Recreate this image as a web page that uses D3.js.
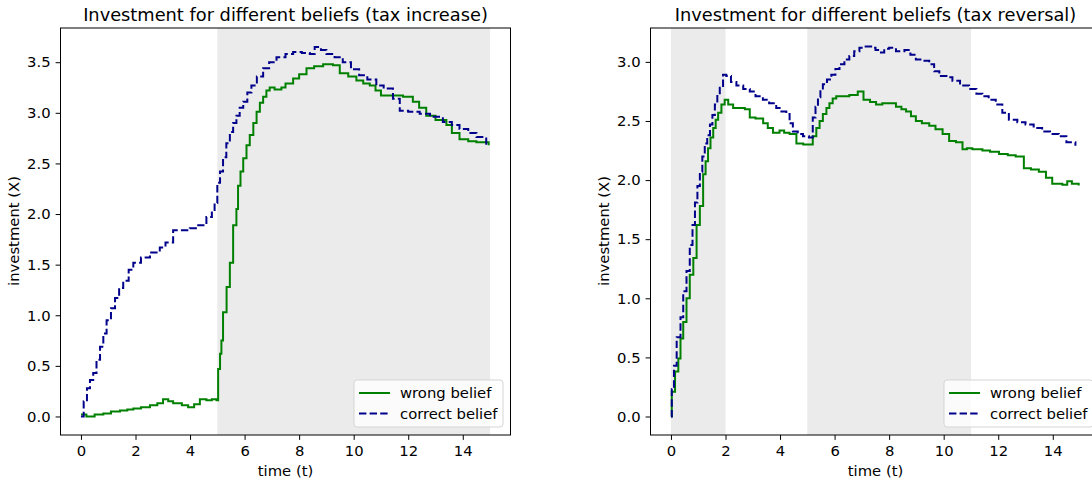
<!DOCTYPE html>
<html>
<head>
<meta charset="utf-8">
<script src="https://cdn.jsdelivr.net/npm/d3@7"></script>
<style>
  html, body { margin: 0; padding: 0; background: #fff; }
  svg { display: block; }
  text { font-family: "DejaVu Sans", sans-serif; fill: #000; }
</style>
</head>
<body>
<svg id="chart" width="1092" height="483"></svg>
<script>
// ---------------- DATA ----------------
const seriesNames = ["wrong belief", "correct belief"];
const xTickValues = [0, 2, 4, 6, 8, 10, 12, 14];
const yTicksLeft = [0, 0.5, 1.0, 1.5, 2.0, 2.5, 3.0, 3.5];
const yTicksRight = [0, 0.5, 1.0, 1.5, 2.0, 2.5, 3.0];
const titleLeft = "Investment for different beliefs (tax increase)";
const titleRight = "Investment for different beliefs (tax reversal)";
const shadeLeft = [[5, 15]];
const shadeRight = [[0, 2], [5, 11]];

// Left panel: tax increase
const tLeftWrong = [0,0.2,0.5,0.82,1.1,1.43,1.7,1.92,2.2,2.53,2.8,3.01,3.2,3.38,3.7,3.93,4.15,4.36,4.6,4.8,4.97,5.03,5.1,5.15,5.21,5.34,5.46,5.58,5.7,5.76,5.85,5.95,6.07,6.19,6.32,6.44,6.56,6.68,6.8,6.92,7.1,7.35,7.5,7.78,8.0,8.27,8.55,8.88,9.24,9.49,9.8,10.1,10.35,10.59,10.8,11.0,11.4,11.81,12.17,12.4,12.66,13.0,13.4,13.6,13.88,14.2,14.5,14.95];
const vLeftWrong = [0.02,0.0,0.02,0.03,0.05,0.06,0.07,0.08,0.09,0.11,0.13,0.17,0.15,0.13,0.11,0.09,0.12,0.17,0.16,0.17,0.16,0.47,0.62,0.75,1.03,1.28,1.52,1.89,2.05,2.28,2.42,2.55,2.68,2.78,2.9,3.01,3.1,3.16,3.22,3.25,3.23,3.25,3.29,3.34,3.38,3.44,3.46,3.48,3.47,3.39,3.36,3.32,3.29,3.27,3.22,3.17,3.17,3.16,3.11,3.05,2.97,2.93,2.88,2.80,2.74,2.72,2.71,2.68];
const tLeftCorrect = [0,0.1,0.22,0.33,0.45,0.57,0.7,0.82,0.94,1.1,1.25,1.4,1.55,1.75,1.92,2.2,2.53,2.89,3.1,3.38,3.7,3.99,4.3,4.6,4.8,4.9,5.0,5.1,5.21,5.33,5.46,5.58,5.7,5.82,5.95,6.1,6.25,6.45,6.68,6.9,7.17,7.5,7.78,8.1,8.39,8.57,8.8,9.0,9.3,9.6,9.9,10.2,10.5,10.83,11.1,11.44,11.69,12.0,12.42,12.8,13.27,13.6,13.88,14.2,14.5,14.86];
const vLeftCorrect = [0,0.15,0.28,0.36,0.43,0.56,0.69,0.82,0.95,1.07,1.17,1.27,1.34,1.45,1.52,1.57,1.62,1.67,1.72,1.84,1.84,1.86,1.89,1.97,2.04,2.11,2.31,2.42,2.56,2.70,2.81,2.90,2.97,3.05,3.11,3.20,3.27,3.36,3.44,3.50,3.55,3.58,3.60,3.59,3.58,3.65,3.62,3.58,3.55,3.50,3.43,3.37,3.33,3.27,3.24,3.14,3.02,3.01,2.99,2.96,2.91,2.88,2.84,2.80,2.76,2.68];

// Right panel: tax reversal
const tRightWrong = [0,0.03,0.15,0.27,0.35,0.45,0.57,0.69,0.82,0.94,1.06,1.18,1.27,1.36,1.45,1.55,1.64,1.73,1.85,1.97,2.1,2.28,2.5,2.71,2.89,3.1,3.38,3.55,3.74,3.98,4.15,4.35,4.6,4.85,5.08,5.2,5.33,5.45,5.57,5.7,5.81,5.93,6.06,6.3,6.54,6.7,6.85,7.06,7.3,7.52,7.75,8.0,8.25,8.45,8.62,8.8,8.98,9.2,9.47,9.7,9.96,10.2,10.45,10.69,10.85,11.05,11.42,11.7,12.03,12.35,12.64,12.94,13.2,13.49,13.75,13.98,14.35,14.53,14.7,14.95];
const vRightWrong = [0,0.21,0.38,0.49,0.66,0.80,1.0,1.20,1.34,1.62,1.78,2.05,2.16,2.27,2.36,2.44,2.51,2.57,2.64,2.68,2.64,2.61,2.61,2.60,2.53,2.52,2.48,2.44,2.40,2.42,2.40,2.39,2.31,2.30,2.30,2.37,2.44,2.50,2.56,2.61,2.65,2.69,2.71,2.71,2.72,2.72,2.75,2.68,2.66,2.64,2.65,2.65,2.62,2.60,2.58,2.54,2.50,2.48,2.46,2.43,2.39,2.33,2.32,2.26,2.27,2.26,2.25,2.24,2.22,2.21,2.20,2.10,2.09,2.07,2.02,1.97,1.96,1.99,1.97,1.955];
const tRightCorrect = [0,0.03,0.11,0.21,0.35,0.45,0.57,0.69,0.79,0.88,0.97,1.06,1.15,1.24,1.33,1.43,1.52,1.61,1.7,1.79,1.91,2.03,2.2,2.4,2.65,2.89,3.1,3.37,3.6,3.86,4.05,4.23,4.35,4.47,4.65,4.84,5.06,5.13,5.2,5.3,5.39,5.48,5.57,5.72,5.88,6.03,6.18,6.36,6.54,6.72,6.91,7.1,7.34,7.5,7.64,7.82,8.0,8.25,8.56,8.78,8.98,9.2,9.47,9.65,9.84,10.1,10.32,10.6,10.93,11.2,11.42,11.65,11.91,12.15,12.39,12.7,13.0,13.3,13.61,13.9,14.22,14.5,14.83];
const vRightCorrect = [0,0.23,0.43,0.67,0.84,1.06,1.23,1.45,1.62,1.81,1.95,2.07,2.20,2.31,2.38,2.47,2.55,2.64,2.72,2.78,2.89,2.88,2.83,2.80,2.77,2.75,2.71,2.68,2.65,2.61,2.58,2.56,2.48,2.41,2.39,2.37,2.36,2.36,2.53,2.62,2.70,2.76,2.81,2.85,2.89,2.94,2.98,3.02,3.05,3.09,3.12,3.13,3.12,3.10,3.08,3.11,3.12,3.09,3.10,3.06,3.02,3.01,2.98,2.92,2.88,2.87,2.84,2.80,2.77,2.73,2.71,2.68,2.64,2.57,2.51,2.49,2.47,2.44,2.41,2.39,2.37,2.32,2.29];

// ---------------- DRAW ----------------
const svg = d3.select("#chart");
const COLORS = { wrong: "#008000", correct: "#00008b" };
const FS = 14.8, FT = 17.8;
const zip = (t, v) => t.map((d, i) => ({ t: d, v: v[i] }));

function panel(cfg) {
  const x = d3.scaleLinear().domain([-0.75, 15.75]).range([cfg.left, cfg.left + 450]);
  const y = d3.scaleLinear().domain(cfg.ydom).range([435, 28]);
  const g = svg.append("g");
  const clipId = "clip" + cfg.id;
  g.append("clipPath").attr("id", clipId).append("rect")
    .attr("x", x.range()[0]).attr("y", 28).attr("width", 450).attr("height", 407);

  // shaded regions
  g.selectAll("rect.shade").data(cfg.shade).enter().append("rect")
    .attr("class", "shade")
    .attr("x", d => x(d[0])).attr("width", d => x(d[1]) - x(d[0]))
    .attr("y", 28).attr("height", 407)
    .attr("fill", "#ebebeb");

  const line = d3.line().x(d => x(d.t)).y(d => y(d.v)).curve(d3.curveStepAfter);
  const lines = g.append("g").attr("clip-path", `url(#${clipId})`);
  lines.append("path").datum(zip(cfg.tw, cfg.vw))
    .attr("d", line).attr("fill", "none").attr("stroke", COLORS.wrong)
    .attr("stroke-width", 2).attr("stroke-linejoin", "miter");
  lines.append("path").datum(zip(cfg.tc, cfg.vc))
    .attr("d", line).attr("fill", "none").attr("stroke", COLORS.correct)
    .attr("stroke-width", 2).attr("stroke-dasharray", "7.4,3.2");

  // axes
  const xAxis = d3.axisBottom(x).tickValues(xTickValues).tickSize(4.9).tickPadding(5.5).tickFormat(d3.format("d"));
  const yAxis = d3.axisLeft(y).tickValues(cfg.yticks).tickSize(4.9).tickPadding(5).tickFormat(d3.format(".1f"));
  const gx = g.append("g").attr("transform", "translate(0,435)").call(xAxis);
  const gy = g.append("g").attr("transform", `translate(${cfg.left},0)`).call(yAxis);
  [gx, gy].forEach(a => {
    a.select(".domain").remove();
    a.selectAll("line").attr("stroke", "#000").attr("stroke-width", 1);
    a.selectAll("text").style("font-size", FS + "px").style("font-family", "DejaVu Sans, sans-serif").attr("fill", "#000");
  });

  // frame
  g.append("rect").attr("x", x.range()[0]).attr("y", 28).attr("width", 450).attr("height", 407)
    .attr("fill", "none").attr("stroke", "#000").attr("stroke-width", 1);

  // title & labels
  g.append("text").attr("x", cfg.left + 225).attr("y", 20.5).attr("text-anchor", "middle")
    .style("font-size", FT + "px").text(cfg.title);
  g.append("text").attr("x", cfg.left + 225).attr("y", 476).attr("text-anchor", "middle")
    .style("font-size", FS + "px").text("time (t)");
  g.append("text").attr("transform", `translate(${cfg.left - 41.5},231) rotate(-90)`)
    .attr("text-anchor", "middle").style("font-size", FS + "px").text("investment (X)");

  // legend
  const lx = cfg.left + 450 - 7.5 - 149, ly = 380;
  const lg = g.append("g");
  lg.append("rect").attr("x", lx).attr("y", ly).attr("width", 149).attr("height", 47)
    .attr("rx", 3).attr("fill", "#fff").attr("fill-opacity", 0.8)
    .attr("stroke", "#d5d5d5").attr("stroke-width", 1);
  const items = [
    { name: seriesNames[0], color: COLORS.wrong, dash: null },
    { name: seriesNames[1], color: COLORS.correct, dash: "7.4,3.2" }
  ];
  items.forEach((it, i) => {
    const yy = ly + 13 + i * 20.6;
    lg.append("line").attr("x1", lx + 5).attr("x2", lx + 36).attr("y1", yy).attr("y2", yy)
      .attr("stroke", it.color).attr("stroke-width", 2).attr("stroke-dasharray", it.dash);
    lg.append("text").attr("x", lx + 46).attr("y", yy + 5).style("font-size", FS + "px").text(it.name);
  });
}

panel({ id: "L", left: 60.5, ydom: [-0.183, 3.838], yticks: yTicksLeft, shade: shadeLeft,
  tw: tLeftWrong, vw: vLeftWrong, tc: tLeftCorrect, vc: vLeftCorrect, title: titleLeft });
panel({ id: "R", left: 650.5, ydom: [-0.1565, 3.2865], yticks: yTicksRight, shade: shadeRight,
  tw: tRightWrong, vw: vRightWrong, tc: tRightCorrect, vc: vRightCorrect, title: titleRight });
</script>
</body>
</html>
